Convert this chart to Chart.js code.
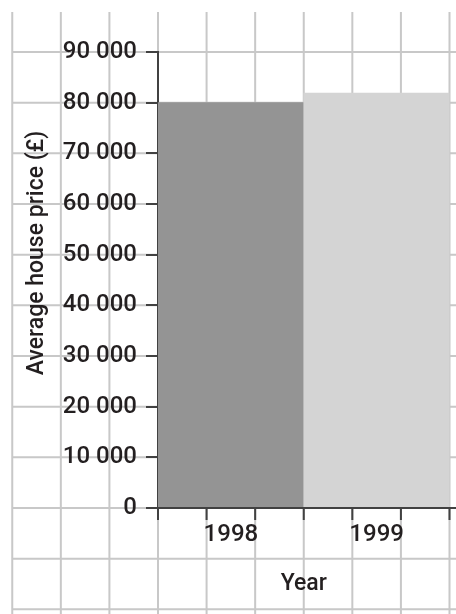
<!DOCTYPE html>
<html>
<head>
<meta charset="utf-8">
<script src="https://cdn.jsdelivr.net/npm/chart.js@4"></script>
<style>
  html, body { margin: 0; padding: 0; background: #fff; }
  #wrap { width: 456px; height: 614px; }
</style>
</head>
<body>
<div id="wrap"><canvas id="chart"></canvas></div>
<script>
const years = ['1998', '1999'];
const prices = [80000, 81900];
const barColors = ['#949494', '#d4d4d4'];
const yTicks = [0, 10000, 20000, 30000, 40000, 50000, 60000, 70000, 80000, 90000];

const FONT = 'Roboto, "Liberation Sans", Arial, sans-serif';
const TEXT = '#231f20';
const AXIS = '#414141';
const GRID = '#c8c8c8';

// background squared paper + x axis with minor ticks + y title
const paper = {
    id: 'paper',
    beforeDraw(chart) {
        const {ctx, scales: {x, y}} = chart;
        const step = (x.right - x.left) / years.length / 3;
        ctx.save();
        ctx.strokeStyle = GRID;
        ctx.lineWidth = 2;
        ctx.beginPath();
        for (let v = yTicks[yTicks.length - 1]; ; v -= 10000) {
            const py = y.getPixelForValue(v);
            if (py > chart.height + 2) break;
            ctx.moveTo(12, py);
            ctx.lineTo(chart.width, py);
        }
        let px = x.left;
        while (px - step > 8) px -= step;
        for (; px < chart.width; px += step) {
            ctx.moveTo(px, 12);
            ctx.lineTo(px, chart.height);
        }
        ctx.stroke();
        ctx.restore();
    },
    afterDraw(chart) {
        const {ctx, scales: {x, y}} = chart;
        const step = (x.right - x.left) / years.length / 3;
        const base = y.getPixelForValue(0);
        ctx.save();
        ctx.strokeStyle = AXIS;
        ctx.lineWidth = 2;
        ctx.beginPath();
        ctx.moveTo(x.left - 1, base);
        ctx.lineTo(chart.width, base);
        for (let px = x.left; px <= x.right + 1; px += step) {
            ctx.moveTo(px, base);
            ctx.lineTo(px, base + 12);
        }
        ctx.stroke();

        ctx.fillStyle = TEXT;
        ctx.font = '500 23px ' + FONT;
        ctx.textAlign = 'center';
        ctx.textBaseline = 'middle';
        ctx.translate(37, 253);
        ctx.rotate(-Math.PI / 2);
        ctx.fillText('Average house price (£)', 0, 0);
        ctx.restore();
    }
};

new Chart(document.getElementById('chart'), {
    type: 'bar',
    data: {
        labels: years,
        datasets: [{
            data: prices,
            backgroundColor: barColors,
            borderWidth: 0,
            barPercentage: 1,
            categoryPercentage: 1
        }]
    },
    options: {
        responsive: true,
        maintainAspectRatio: false,
        animation: false,
        layout: { padding: { top: 52, right: 6.5, left: 0, bottom: 0 } },
        plugins: { legend: { display: false }, tooltip: { enabled: false } },
        scales: {
            x: {
                offset: true,
                grid: { display: false },
                border: { display: false },
                ticks: {
                    color: TEXT,
                    padding: 5,
                    font: { family: FONT, size: 24, weight: '500' }
                },
                title: {
                    display: true,
                    text: 'Year',
                    color: TEXT,
                    font: { family: FONT, size: 23, weight: '500' },
                    padding: { top: 0, bottom: 16 }
                },
                afterFit(scale) { scale.height = 106; }
            },
            y: {
                min: 0,
                max: 90000,
                afterBuildTicks(scale) { scale.ticks = yTicks.map(v => ({ value: v })); },
                grid: {
                    drawOnChartArea: false,
                    drawTicks: true,
                    tickLength: 12,
                    color: AXIS,
                    lineWidth: 2
                },
                border: { display: true, color: AXIS, width: 2 },
                ticks: {
                    color: TEXT,
                    padding: 9,
                    font: { family: FONT, size: 24, weight: '500' },
                    callback: v => v.toLocaleString('en-GB').replace(/,/g, ' ')
                },
                afterFit(scale) { scale.width = 158; }
            }
        }
    },
    plugins: [paper]
});
</script>
</body>
</html>
